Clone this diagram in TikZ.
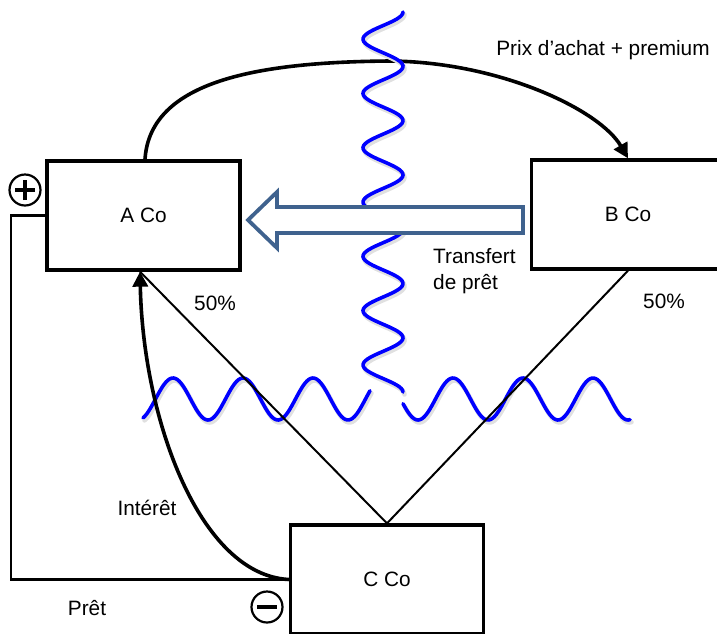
\documentclass[tikz,border=0pt]{standalone}
\usepackage{fontspec}
\setmainfont{Liberation Sans}
\usetikzlibrary{arrows.meta,calc}
\definecolor{wblue}{RGB}{0,0,255}
\definecolor{steel}{RGB}{63,98,142}
\begin{document}
\begin{tikzpicture}[x=1pt,y=-1pt,
  box/.style={draw, line width=3.3pt, minimum width=193pt, minimum height=109pt, inner sep=0pt, font=\fontsize{20.8}{25}\selectfont},
  lbl/.style={font=\fontsize{20.8}{26}\selectfont, inner sep=0pt},
  wave/.style={wblue, line width=3.6pt, line cap=round},
  waveshade/.style={black!12, line width=4.5pt, line cap=round},
  bigarrow/.style={line width=3.6pt, -{Triangle[length=15pt,width=15pt]}},
  signcirc/.style={circle, draw, line width=2.2pt, minimum size=31pt, inner sep=0pt},
  thinline/.style={line width=2pt, line join=miter}
]
\useasboundingbox (0,0) rectangle (717,633);

% boxes
\node[box] (A) at (143.5,215.5) {A Co};
\node[box] (B) at (628,214.5) {B Co};
\node[box] (C) at (387,579.5) {C Co};

% horizontal wave (with gap)
\begin{scope}[shift={(1.5,2.5)}]
\draw[waveshade] plot[domain=143:370, samples=120, smooth] (\x, {399+21*cos((\x-138)*5.142857)});
\draw[waveshade] plot[domain=403:630, samples=120, smooth] (\x, {399+21*cos((\x-138)*5.142857)});
\end{scope}
\draw[wave] plot[domain=143:370, samples=120, smooth] (\x, {399+21*cos((\x-138)*5.142857)});
\draw[wave] plot[domain=403:630, samples=120, smooth] (\x, {399+21*cos((\x-138)*5.142857)});

% ownership lines
\draw[thinline] ([xshift=-3.5pt]A.south) -- (C.north) -- (B.south);

% loan line
\draw[line width=2.2pt] (A.west) -- ++(-34,0) |- (C.west);

% interest arrow
\draw[bigarrow] (C.west) .. controls (200,575) and (143,420) .. ([xshift=-3.5pt]A.south);

% purchase arrow
\draw[bigarrow] ([xshift=1.5pt]A.north) .. controls (150,80) and (260,62) .. (390,61) .. controls (500,62) and (600,110) .. (B.north);

% vertical wave
\begin{scope}[shift={(1.5,2.5)}]
\draw[waveshade] plot[domain=12:392, samples=220, smooth] ({383+20*cos((\x-12)*6.629834)}, \x);
\end{scope}
\draw[wave] plot[domain=12:392, samples=220, smooth] ({383+20*cos((\x-12)*6.629834)}, \x);

% hollow transfer arrow
\draw[steel, line width=3.8pt, fill=white, line join=miter]
  (523,207) -- (277,207) -- (277,192) -- (248,220) -- (277,248) -- (277,233) -- (523,233) -- cycle;

% signs
\node[signcirc] (plus) at (25,190) {};
\draw[line width=3.2pt] ([xshift=-10pt]plus.center) -- ([xshift=10pt]plus.center);
\draw[line width=3.2pt] ([yshift=-10pt]plus.center) -- ([yshift=10pt]plus.center);
\node[signcirc] (minus) at (267,607) {};
\draw[line width=3.2pt] ([xshift=-10pt]minus.center) -- ([xshift=10pt]minus.center);

% labels
\node[lbl] (prix) at (603,50) {Prix d’achat + premium};
\node[lbl, align=left, anchor=west] (transf) at (433,271) {Transfert\\de prêt};
\node[lbl] (pa) at (215,303) {50\%};
\node[lbl] (pb) at (664,301) {50\%};
\node[lbl] (int) at (147,508) {Intérêt};
\node[lbl] (pret) at (87,608) {Prêt};
\end{tikzpicture}
\end{document}
